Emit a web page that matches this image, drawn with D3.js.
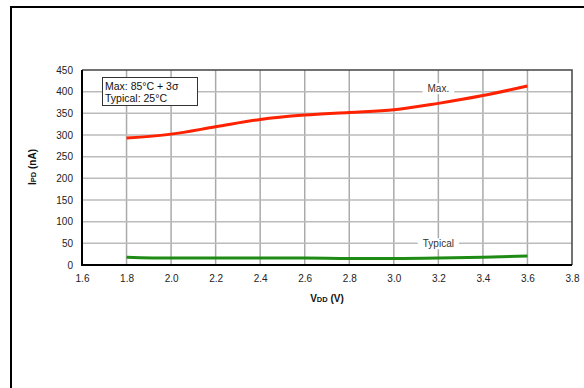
<!DOCTYPE html>
<html><head><meta charset="utf-8">
<script src="https://cdn.jsdelivr.net/npm/d3@7"></script>
<style>body{margin:0;background:#fff;}svg{display:block;font-family:"Liberation Sans",Arial,sans-serif;}</style>
</head><body>
<script>
const vdd = [1.8, 2.0, 2.2, 2.4, 2.6, 2.8, 3.0, 3.2, 3.4, 3.6];
const maxVals = [293, 302, 319, 336, 346, 352, 358, 373, 391, 413];
const typicalVals = [18, 16, 16, 16, 16, 15, 15, 16, 18, 21];
const xTicks = [1.6, 1.8, 2.0, 2.2, 2.4, 2.6, 2.8, 3.0, 3.2, 3.4, 3.6, 3.8];
const yTicks = [0, 50, 100, 150, 200, 250, 300, 350, 400, 450];

const W = 584, H = 388;
const svg = d3.select("body").append("svg").attr("width", W).attr("height", H);
const L = 82, R = 572, T = 70, B = 265;
const x = d3.scaleLinear().domain([1.6, 3.8]).range([L, R]);
const y = d3.scaleLinear().domain([0, 450]).range([B, T]);

// outer frame
svg.append("path").attr("d", `M11,388 L11,7 L584,7`).attr("fill", "none").attr("stroke", "#000").attr("stroke-width", 2);

// grid
const g = svg.append("g");
g.selectAll(".vg").data(xTicks.slice(1, -1)).join("line")
  .attr("x1", d => x(d)).attr("x2", d => x(d)).attr("y1", T).attr("y2", B)
  .attr("stroke", "#aaa").attr("stroke-width", 1.5);
g.selectAll(".hg").data(yTicks.slice(1, -1)).join("line")
  .attr("x1", L).attr("x2", R).attr("y1", d => y(d)).attr("y2", d => y(d))
  .attr("stroke", "#bbb").attr("stroke-width", 1.5);

// top/right borders
svg.append("path").attr("d", `M${L},${T} L${R},${T} L${R},${B}`).attr("fill", "none").attr("stroke", "#444").attr("stroke-width", 1.5);

// axes via d3
const xAxis = d3.axisBottom(x).tickValues(xTicks).tickSize(0).tickPadding(10).tickFormat(d3.format(".1f"));
const yAxis = d3.axisLeft(y).tickValues(yTicks).tickSize(0).tickPadding(9).tickFormat(d3.format("d"));
const xg = svg.append("g").attr("transform", `translate(0,${B})`).call(xAxis);
const yg = svg.append("g").attr("transform", `translate(${L},0)`).call(yAxis);
[xg, yg].forEach(a => {
  a.select(".domain").remove();
  a.selectAll("text").attr("font-size", 10).attr("fill", "#222").attr("font-family", "Liberation Sans, Arial, sans-serif");
});
// left and bottom thick axis lines
svg.append("path").attr("d", `M${L},${T} L${L},${B} L${R},${B}`).attr("fill", "none").attr("stroke", "#000").attr("stroke-width", 2);

// labels on lines
function lineLabel(txt, xv, yv) {
  const t = svg.append("text").attr("x", x(xv)).attr("y", y(yv) + 3.5).attr("text-anchor", "middle")
    .attr("font-size", 10).attr("fill", "#333").text(txt);
  const bb = t.node().getBBox();
  svg.insert("rect", () => t.node()).attr("x", bb.x - 5).attr("y", bb.y).attr("width", bb.width + 10).attr("height", bb.height).attr("fill", "#fff");
}
lineLabel("Max.", 3.2, 407);
lineLabel("Typical", 3.2, 49);

// series lines
const line = d3.line().x((d, i) => x(vdd[i])).y(d => y(d)).curve(d3.curveMonotoneX);
svg.append("path").datum(typicalVals).attr("d", line).attr("fill", "none").attr("stroke", "#1e8c14").attr("stroke-width", 3);
svg.append("path").datum(maxVals).attr("d", line).attr("fill", "none").attr("stroke", "#ff2200").attr("stroke-width", 3);

// legend box
svg.append("rect").attr("x", 102.5).attr("y", 77.5).attr("width", 95).attr("height", 28).attr("fill", "#fff").attr("stroke", "#333").attr("stroke-width", 1);
svg.append("text").attr("x", 105).attr("y", 90).attr("font-size", 10.5).attr("fill", "#111").text("Max: 85°C + 3σ");
svg.append("text").attr("x", 105).attr("y", 102).attr("font-size", 10.5).attr("fill", "#111").text("Typical: 25°C");

// axis titles
const xt = svg.append("text").attr("x", 327).attr("y", 302).attr("text-anchor", "middle").attr("font-weight", "bold").attr("font-size", 10).attr("fill", "#111");
xt.append("tspan").text("V");
xt.append("tspan").attr("font-size", 7.5).text("DD");
xt.append("tspan").text(" (V)");
const yt = svg.append("text").attr("transform", "translate(36,167) rotate(-90)").attr("text-anchor", "middle").attr("font-weight", "bold").attr("font-size", 10).attr("fill", "#111");
yt.append("tspan").text("I");
yt.append("tspan").attr("font-size", 7.5).text("PD");
yt.append("tspan").text(" (nA)");
</script>
</body></html>
